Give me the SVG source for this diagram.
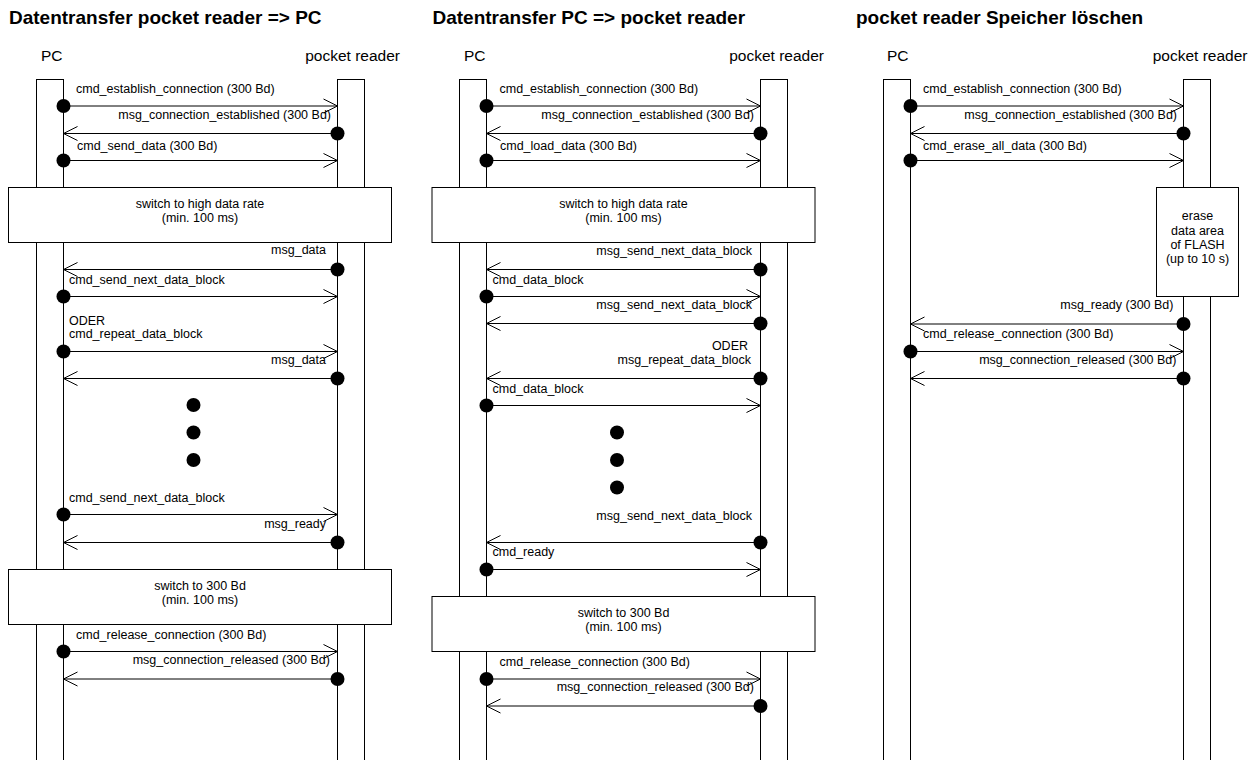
<svg xmlns="http://www.w3.org/2000/svg" width="1258" height="760" viewBox="0 0 1258 760">
<style>
text{font-family:"Liberation Sans",Arial,sans-serif;fill:#000}
.t{font-size:19px;font-weight:bold}
.h{font-size:15.5px}
.s{font-size:12.5px}
.e{text-anchor:end}
.m{text-anchor:middle}
.ll{fill:#fff;stroke:#000;stroke-width:1}
.bx{fill:#fff;stroke:#000;stroke-width:1}
.c line{stroke:#000;stroke-width:1;marker-start:url(#dot);marker-end:url(#arr)}
</style>
<defs>
<marker id="dot" markerUnits="userSpaceOnUse" markerWidth="16" markerHeight="16" refX="8" refY="8" orient="auto" overflow="visible"><circle cx="8" cy="8" r="7" fill="#000"/></marker>
<marker id="arr" markerUnits="userSpaceOnUse" markerWidth="16" markerHeight="16" refX="15" refY="8" orient="auto" overflow="visible"><path d="M1,1 L15,8 L1,15" fill="none" stroke="#000" stroke-width="1"/></marker>
</defs>
<rect width="1258" height="760" fill="#fff"/>

<!-- Diagram 1 -->
<g id="title1"><text class="t" x="9" y="24">Datentransfer pocket reader =&gt; PC</text></g>
<g id="pc1"><text class="h" x="41" y="61">PC</text><rect class="ll" x="36.5" y="79.5" width="27" height="700"/></g>
<g id="pr1"><text class="h e" x="400" y="61">pocket reader</text><rect class="ll" x="337.5" y="79.5" width="27" height="700"/></g>
<g id="box1a"><rect class="bx" x="8.5" y="187.5" width="383" height="55"/><text class="s m" x="200" y="208">switch to high data rate</text><text class="s m" x="200" y="221.5">(min. 100 ms)</text></g>
<g id="box1b"><rect class="bx" x="8.5" y="569.5" width="383" height="55"/><text class="s m" x="200" y="590">switch to 300 Bd</text><text class="s m" x="200" y="604">(min. 100 ms)</text></g>
<g id="ell1"><circle cx="193.5" cy="405" r="7"/><circle cx="193.5" cy="432.5" r="7"/><circle cx="193.5" cy="460" r="7"/></g>

<!-- Diagram 2 -->
<g id="title2"><text class="t" x="432.5" y="24">Datentransfer PC =&gt; pocket reader</text></g>
<g id="pc2"><text class="h" x="464" y="61">PC</text><rect class="ll" x="459.5" y="79.5" width="27" height="700"/></g>
<g id="pr2"><text class="h e" x="824" y="61">pocket reader</text><rect class="ll" x="760.5" y="79.5" width="27" height="700"/></g>
<g id="box2a"><rect class="bx" x="432" y="187.5" width="383" height="55"/><text class="s m" x="623.5" y="208">switch to high data rate</text><text class="s m" x="623.5" y="221.5">(min. 100 ms)</text></g>
<g id="box2b"><rect class="bx" x="432" y="596.5" width="383" height="55"/><text class="s m" x="623.5" y="617">switch to 300 Bd</text><text class="s m" x="623.5" y="631">(min. 100 ms)</text></g>
<g id="ell2"><circle cx="617" cy="432.5" r="7"/><circle cx="617" cy="460" r="7"/><circle cx="617" cy="487.5" r="7"/></g>

<!-- Diagram 3 -->
<g id="title3"><text class="t" x="856" y="24">pocket reader Speicher löschen</text></g>
<g id="pc3"><text class="h" x="887" y="61">PC</text><rect class="ll" x="883.5" y="79.5" width="27" height="700"/></g>
<g id="pr3"><text class="h e" x="1247.5" y="61">pocket reader</text><rect class="ll" x="1183.5" y="79.5" width="27" height="700"/></g>
<g id="box3"><rect class="bx" x="1156.5" y="187.5" width="82" height="109"/><text class="s m" x="1197.5" y="220">erase</text><text class="s m" x="1197.5" y="234.5">data area</text><text class="s m" x="1197.5" y="248.5">of FLASH</text><text class="s m" x="1197.5" y="263">(up to 10 s)</text></g>

<g id="connectors" class="c">
<!-- D1 -->
<line x1="63.5" y1="106" x2="337.5" y2="106"/>
<line x1="337.5" y1="133.5" x2="63.5" y2="133.5"/>
<line x1="63.5" y1="160.5" x2="337.5" y2="160.5"/>
<line x1="337.5" y1="269.5" x2="63.5" y2="269.5"/>
<line x1="63.5" y1="296.5" x2="337.5" y2="296.5"/>
<line x1="63.5" y1="351.5" x2="337.5" y2="351.5"/>
<line x1="337.5" y1="378.5" x2="63.5" y2="378.5"/>
<line x1="63.5" y1="514.5" x2="337.5" y2="514.5"/>
<line x1="337.5" y1="542.5" x2="63.5" y2="542.5"/>
<line x1="63.5" y1="651.5" x2="337.5" y2="651.5"/>
<line x1="337.5" y1="679" x2="63.5" y2="679"/>
<!-- D2 -->
<line x1="486.5" y1="106" x2="760.5" y2="106"/>
<line x1="760.5" y1="133.5" x2="486.5" y2="133.5"/>
<line x1="486.5" y1="160.5" x2="760.5" y2="160.5"/>
<line x1="760.5" y1="269.5" x2="486.5" y2="269.5"/>
<line x1="486.5" y1="296.5" x2="760.5" y2="296.5"/>
<line x1="760.5" y1="323.5" x2="486.5" y2="323.5"/>
<line x1="760.5" y1="378.5" x2="486.5" y2="378.5"/>
<line x1="486.5" y1="405.5" x2="760.5" y2="405.5"/>
<line x1="760.5" y1="542.5" x2="486.5" y2="542.5"/>
<line x1="486.5" y1="569.5" x2="760.5" y2="569.5"/>
<line x1="486.5" y1="679" x2="760.5" y2="679"/>
<line x1="760.5" y1="706" x2="486.5" y2="706"/>
<!-- D3 -->
<line x1="910.5" y1="106" x2="1183.5" y2="106"/>
<line x1="1183.5" y1="133.5" x2="910.5" y2="133.5"/>
<line x1="910.5" y1="160.5" x2="1183.5" y2="160.5"/>
<line x1="1183.5" y1="324" x2="910.5" y2="324"/>
<line x1="910.5" y1="351.5" x2="1183.5" y2="351.5"/>
<line x1="1183.5" y1="378.5" x2="910.5" y2="378.5"/>
</g>

<g id="labels" class="s">
<text class="s" x="76" y="93">cmd_establish_connection (300 Bd)</text>
<text class="s e" x="331" y="118.5">msg_connection_established (300 Bd)</text>
<text class="s" x="77" y="150">cmd_send_data (300 Bd)</text>
<text class="s e" x="326" y="254">msg_data</text>
<text class="s" x="69" y="283.5">cmd_send_next_data_block</text>
<text class="s" x="69" y="325">ODER</text>
<text class="s" x="69" y="337.5">cmd_repeat_data_block</text>
<text class="s e" x="326" y="363.5">msg_data</text>
<text class="s" x="69" y="501.5">cmd_send_next_data_block</text>
<text class="s e" x="326" y="527.5">msg_ready</text>
<text class="s" x="76" y="639">cmd_release_connection (300 Bd)</text>
<text class="s e" x="330" y="664">msg_connection_released (300 Bd)</text>

<text class="s" x="499.5" y="93">cmd_establish_connection (300 Bd)</text>
<text class="s e" x="754" y="118.5">msg_connection_established (300 Bd)</text>
<text class="s" x="500" y="150">cmd_load_data (300 Bd)</text>
<text class="s e" x="752" y="255">msg_send_next_data_block</text>
<text class="s" x="492.5" y="283.5">cmd_data_block</text>
<text class="s e" x="752" y="308.5">msg_send_next_data_block</text>
<text class="s e" x="748" y="350">ODER</text>
<text class="s e" x="751" y="363.5">msg_repeat_data_block</text>
<text class="s" x="492.5" y="392.5">cmd_data_block</text>
<text class="s e" x="752" y="520">msg_send_next_data_block</text>
<text class="s" x="492.5" y="556">cmd_ready</text>
<text class="s" x="499.5" y="666">cmd_release_connection (300 Bd)</text>
<text class="s e" x="754" y="691">msg_connection_released (300 Bd)</text>

<text class="s" x="923" y="93">cmd_establish_connection (300 Bd)</text>
<text class="s e" x="1177" y="118.5">msg_connection_established (300 Bd)</text>
<text class="s" x="923" y="150">cmd_erase_all_data (300 Bd)</text>
<text class="s e" x="1173.5" y="309">msg_ready (300 Bd)</text>
<text class="s" x="923" y="337.5">cmd_release_connection (300 Bd)</text>
<text class="s e" x="1176.5" y="363.5">msg_connection_released (300 Bd)</text>
</g>
</svg>
